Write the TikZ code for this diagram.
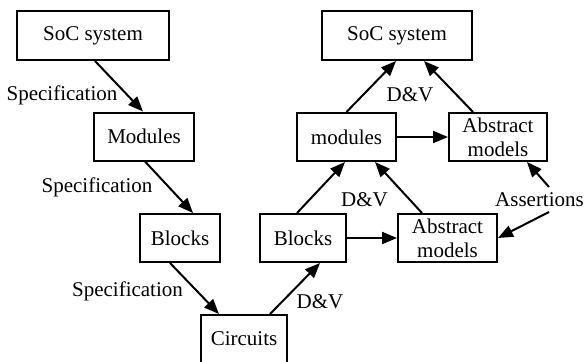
\documentclass[tikz,border=0pt]{standalone}
\usepackage{fontspec}
\setmainfont{Liberation Serif}
\usetikzlibrary{arrows.meta}
\begin{document}
\begin{tikzpicture}[x=1pt,y=-1pt,
  box/.style={draw,line width=2pt,inner sep=0pt,align=center,font=\fontsize{21}{24}\selectfont},
  lab/.style={inner sep=0pt,anchor=base,font=\fontsize{21}{24}\selectfont},
  arr/.style={line width=2pt,-{Triangle[length=15pt,width=12pt]}}]
\useasboundingbox (0,0) rectangle (585,361);
% left side
\node[box,minimum width=152pt,minimum height=49pt] (soc1) at (93,35.5) {SoC system};
\node[box,minimum width=100pt,minimum height=48pt] (mod1) at (144,136.5) {Modules};
\node[box,minimum width=80pt,minimum height=48pt] (blk1) at (180,238) {Blocks};
\node[box,minimum width=86pt,minimum height=48pt] (circ) at (244,339) {Circuits};
% right side
\node[box,minimum width=86pt,minimum height=48pt] (blk2) at (303,238) {Blocks};
\node[box,minimum width=99pt,minimum height=48pt] (abs2) at (447.5,238) {Abstract\\models};
\node[box,minimum width=99pt,minimum height=48pt] (mod2) at (346.5,137) {modules};
\node[box,minimum width=98pt,minimum height=48pt] (abs1) at (498,137) {Abstract\\models};
\node[box,minimum width=150pt,minimum height=49pt] (soc2) at (397,35.5) {SoC system};
% labels
\node[lab] (s1) at (62,100) {Specification};
\node[lab] (s2) at (97,192) {Specification};
\node[lab] (s3) at (127.5,296) {Specification};
\node[lab] (dv1) at (410,101) {D\&V};
\node[lab] (dv2) at (364.5,206) {D\&V};
\node[lab] (dv3) at (320,308) {D\&V};
\node[lab] (as) at (539.5,206) {Assertions};
\coordinate (asA) at (549,187);
\coordinate (asB) at (549,212);
% arrows
\draw[arr] ([xshift=2pt]soc1.south) -- ([xshift=-1pt]mod1.north);
\draw[arr] ([xshift=1pt]mod1.south) -- ([xshift=13pt]blk1.north);
\draw[arr] ([xshift=-10pt]blk1.south) -- ([xshift=-25pt]circ.north);
\draw[arr] ([xshift=26pt]circ.north) -- ([xshift=17pt]blk2.south);
\draw[arr] (blk2.east) -- (abs2.west);
\draw[arr] (asB) -- (abs2.east);
\draw[arr] (asA) -- ([xshift=29pt]abs1.south);
\draw[arr] ([xshift=-6pt]blk2.north) -- ([xshift=-1.5pt]mod2.south);
\draw[arr] ([xshift=-25.5pt]abs2.north) -- ([xshift=28.5pt]mod2.south);
\draw[arr] (mod2.east) -- (abs1.west);
\draw[arr] (mod2.north) -- ([xshift=-1pt]soc2.south);
\draw[arr] ([xshift=-25pt]abs1.north) -- ([xshift=27pt]soc2.south);
\end{tikzpicture}
\end{document}
